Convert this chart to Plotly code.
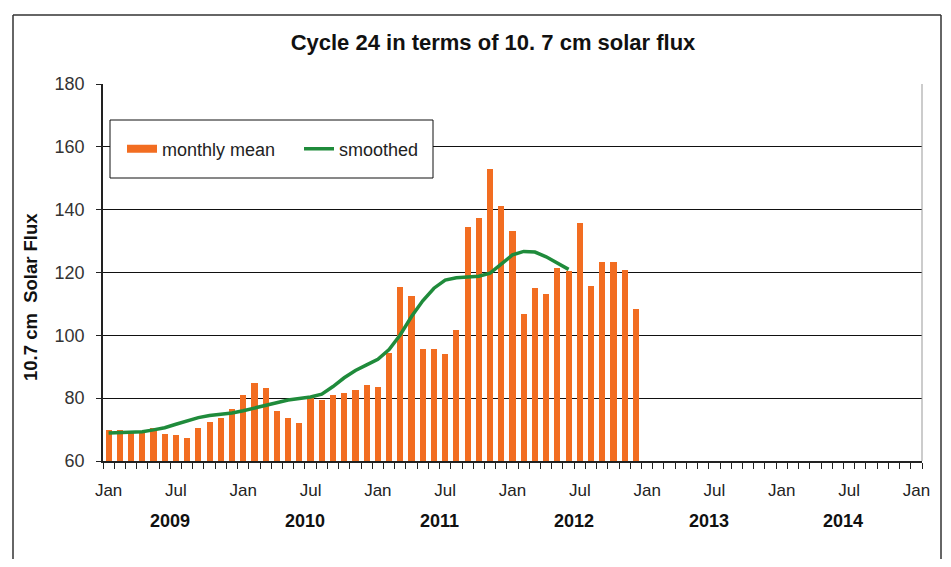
import plotly.graph_objects as go

# Months from Jan 2009 (index 0) ... axis spans to Jan 2015 (index 72)
monthly_mean = [
    69.8, 70.0, 69.2, 69.7, 70.5, 68.6, 68.2, 67.4, 70.5, 72.3, 73.6, 76.7,   # 2009
    81.1, 84.7, 83.3, 75.9, 73.7, 72.2, 79.9, 79.4, 81.1, 81.6, 82.5, 84.3,   # 2010
    83.7, 94.5, 115.3, 112.6, 95.8, 95.8, 94.2, 101.7, 134.5, 137.2, 153.1, 141.2,  # 2011
    133.1, 106.7, 115.1, 113.1, 121.5, 120.5, 135.6, 115.7, 123.2, 123.3, 120.9, 108.4,  # 2012
]
smoothed = [
    68.9, 69.0, 69.2, 69.3, 69.9, 70.6, 71.7, 72.8, 73.8, 74.5, 74.9, 75.3,
    76.0, 76.8, 77.6, 78.5, 79.4, 79.9, 80.4, 81.3, 83.7, 86.5, 88.8, 90.6,
    92.4, 95.5, 100.2, 106.0, 111.0, 115.0, 117.6, 118.3, 118.5, 118.8, 119.8, 122.6,
    125.6, 126.7, 126.5, 125.0, 123.0, 121.0,
]
month_tick_pos = list(range(0, 73, 6))
month_tick_text = ["Jan" if k % 12 == 0 else "Jul" for k in month_tick_pos]
years = ["2009", "2010", "2011", "2012", "2013", "2014"]

x_bars = list(range(len(monthly_mean)))
x_smooth = list(range(len(smoothed)))

FONT = "Liberation Sans, Arial, sans-serif"
ORANGE = "#F26D21"
GREEN = "#1F8B3B"

fig = go.Figure()
fig.add_trace(go.Bar(x=x_bars, y=monthly_mean, name="monthly mean", legendgroup="mm",
                     showlegend=False,
                     marker=dict(color=ORANGE, line=dict(width=0)), width=0.55))
# legend entry for the bars (wide patch like the original)
fig.add_trace(go.Scatter(x=[None], y=[None], name="monthly mean", legendgroup="mm",
                         mode="lines", line=dict(color=ORANGE, width=8), hoverinfo="skip"))
fig.add_trace(go.Scatter(x=x_smooth, y=smoothed, name="smoothed", mode="lines",
                         line=dict(color=GREEN, width=3.5)))

OFF = 8  # page body margin
W, H = 951 - 2 * OFF, 567 - 2 * OFF
x0p, x1p = 103, 922   # plot area in page pixels
y0p, y1p = 84, 461
pw, ph = x1p - x0p, y1p - y0p

def px(xpix):
    return (xpix - x0p) / pw

def py(ypix):
    return (y1p - ypix) / ph

annotations = []
for k, yr in enumerate(years):
    annotations.append(dict(x=12 * k + 5.5, y=py(521), xref="x", yref="paper",
                            text="<b>%s</b>" % yr, showarrow=False,
                            font=dict(family=FONT, size=18, color="#111"),
                            xanchor="center", yanchor="middle"))
annotations.append(dict(x=px(30), y=py(297), xref="paper", yref="paper",
                        text="<b>10.7 cm  Solar Flux</b>", textangle=-90, showarrow=False,
                        font=dict(family=FONT, size=18.5, color="#111"),
                        xanchor="center", yanchor="middle"))

FRAME = dict(color="#333", width=1.5)
shapes = [
    # outer chart frame (bottom edge lies outside the picture)
    dict(type="line", xref="paper", yref="paper", x0=px(13), x1=px(13), y0=py(600), y1=py(15), line=FRAME),
    dict(type="line", xref="paper", yref="paper", x0=px(13), x1=px(941), y0=py(15), y1=py(15), line=FRAME),
    dict(type="line", xref="paper", yref="paper", x0=px(941), x1=px(941), y0=py(600), y1=py(15), line=FRAME),
    # legend box
    dict(type="rect", xref="paper", yref="paper", x0=px(110), x1=px(433), y0=py(178), y1=py(120),
         line=dict(color="#111", width=1), fillcolor="white", layer="above"),
    # plot area right edge
    dict(type="line", xref="paper", yref="paper", x0=1, x1=1, y0=0, y1=1,
         line=dict(color="#999", width=1)),
]

fig.update_layout(
    width=W, height=H,
    margin=dict(l=x0p - OFF, r=W - (x1p - OFF), t=y0p - OFF, b=H - (y1p - OFF)),
    paper_bgcolor="white", plot_bgcolor="white",
    title=dict(text="<b>Cycle 24 in terms of 10. 7 cm solar flux</b>", x=((283 + 703) / 2 - OFF) / W,
               xanchor="center", y=1 - (42 - OFF) / H, yanchor="middle",
               font=dict(family=FONT, size=22, color="#111")),
    showlegend=True,
    legend=dict(orientation="h", x=px(122), y=py(149), xanchor="left", yanchor="middle",
                bgcolor="rgba(0,0,0,0)", borderwidth=0, entrywidth=132, entrywidthmode="pixels",
                font=dict(family=FONT, size=18, color="#222"), itemwidth=30),
    bargap=0,
    annotations=annotations,
    shapes=shapes,
    xaxis=dict(range=[-0.5, 72.5], tickmode="array", tickvals=month_tick_pos,
               ticktext=month_tick_text, ticks="", showgrid=False, zeroline=False,
               showline=True, linecolor="#222", linewidth=1.5,
               tickfont=dict(family=FONT, size=17, color="#222"), ticklabelstandoff=13,
               minor=dict(tick0=-0.5, dtick=1, ticks="outside", ticklen=6,
                          tickcolor="#222", tickwidth=1, showgrid=False)),
    yaxis=dict(range=[60, 180], tickmode="array", tickvals=[60, 80, 100, 120, 140, 160, 180],
               ticks="outside", ticklen=5, tickcolor="#222", showgrid=True, gridcolor="#111",
               gridwidth=1, zeroline=False, showline=True, linecolor="#222", linewidth=1.5,
               tickfont=dict(family=FONT, size=18, color="#333"), ticklabelstandoff=8),
)

fig.write_html("out.html")
